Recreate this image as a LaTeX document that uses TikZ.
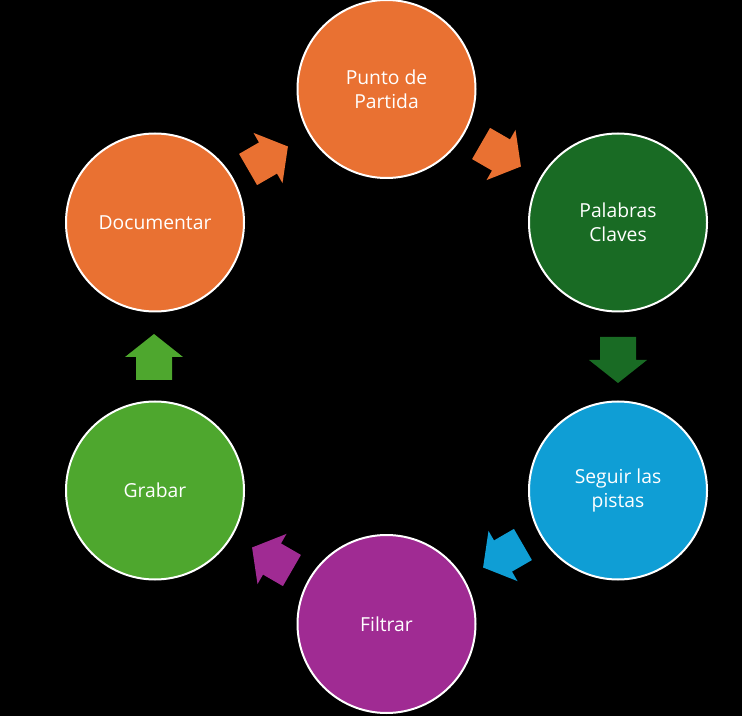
\documentclass[tikz,border=0pt]{standalone}
\usepackage{fontspec}
\setmainfont{Open Sans}
\definecolor{cOrange}{HTML}{E97132}
\definecolor{cDkGreen}{HTML}{196B24}
\definecolor{cBlue}{HTML}{0F9ED5}
\definecolor{cPurple}{HTML}{A02B93}
\definecolor{cLtGreen}{HTML}{4EA72E}
\begin{document}
\begin{tikzpicture}[x=1pt,y=1pt,
  stagecircle/.style={circle, minimum size=178pt, inner sep=0pt, draw=white, line width=2pt,
    text=white, align=center, font=\fontsize{19.3}{24}\selectfont}]
\fill[black] (0,0) rectangle (742,716);
\useasboundingbox (0,0) rectangle (742,716);
\node[stagecircle, fill=cOrange] (punto) at (386.5,627) {Punto de\\Partida};
\node[stagecircle, fill=cDkGreen] (palabras) at (618,493.5) {Palabras\\Claves};
\node[stagecircle, fill=cBlue] (seguir) at (618,225.5) {Seguir las\\pistas};
\node[stagecircle, fill=cPurple] (filtrar) at (386.5,92) {Filtrar};
\node[stagecircle, fill=cLtGreen] (grabar) at (155,225.5) {Grabar};
\node[stagecircle, fill=cOrange] (documentar) at (155,493.5) {Documentar};
\newcommand\arrowshape[4]{%
  \coordinate (#1) at #2;
  \fill[#4, shift={(#1)}, rotate=#3] (-23,-18) -- (0,-18) -- (0,-29) -- (23,0) -- (0,29) -- (0,18) -- (-23,18) -- cycle;}
\arrowshape{a1}{(268,558)}{30}{cOrange}
\arrowshape{a2}{(501,561)}{-30}{cOrange}
\arrowshape{a3}{(618,356)}{-90}{cDkGreen}
\arrowshape{a4}{(503,160)}{210}{cBlue}
\arrowshape{a5}{(272,157)}{150}{cPurple}
\arrowshape{a6}{(154,359)}{90}{cLtGreen}
\end{tikzpicture}
\end{document}
